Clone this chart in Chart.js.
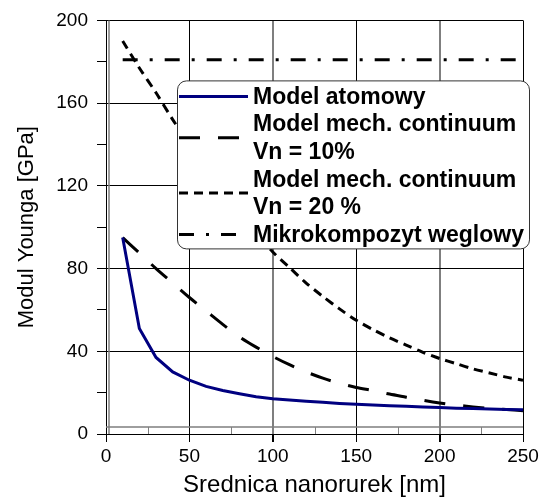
<!DOCTYPE html>
<html>
<head>
<meta charset="utf-8">
<script src="https://cdn.jsdelivr.net/npm/chart.js@4"></script>
<style>
  html, body { margin: 0; padding: 0; background: #fff; }
  #wrap { width: 539px; height: 500px; position: relative; }
</style>
</head>
<body>
<div id="wrap"><canvas id="chart"></canvas></div>
<script>
// Diameters [nm] and Young's modulus [GPa]
const diameters = [10, 20, 30, 40, 50, 60, 70, 80, 90, 100, 110, 120, 130,
                   140, 150, 160, 170, 180, 190, 200, 210, 220, 230, 240, 250];
const atomowy = [95, 51, 37, 30, 26, 23, 21, 19.5, 18, 17, 16.4, 15.8, 15.3,
                 14.8, 14.4, 14, 13.7, 13.4, 13.1, 12.8, 12.5, 12.3, 12.1, 11.9, 11.7];
const continuum10 = [95, 87.5, 80, 73, 66, 59.5, 53, 47, 42, 37.5, 33.5, 30, 27,
                     24.5, 22.5, 21, 19.3, 17.8, 16.3, 15, 14, 13.1, 12.4, 11.8, 11.3];
const continuum20 = [190, 177, 165, 152, 140, 129, 118, 107.5, 97.5, 88, 80.5, 73, 66.5,
                     60.5, 55, 50.5, 46.5, 43, 39.5, 36.5, 34, 31.5, 29.5, 27.5, 26];
const mikroX = [10, 250];
const mikroY = [181, 181];

const seriesLabels = [
  ['Model atomowy'],
  ['Model mech. continuum', 'Vn = 10%'],
  ['Model mech. continuum', 'Vn = 20 %'],
  ['Mikrokompozyt weglowy']
];
const xTicks = [0, 50, 100, 150, 200, 250];
const yTicks = [0, 40, 80, 120, 160, 200];

const FONT = "'Liberation Sans', Arial, sans-serif";

function pts(xs, ys) {
  return xs.map((x, i) => ({ x: x, y: ys[i] }));
}

// grey "second frame" seen just inside the axes, plus the small inner ticks
const innerFrame = {
  id: 'innerFrame',
  beforeDatasetsDraw(chart) {
    const { ctx, chartArea: a, scales } = chart;
    ctx.save();
    ctx.strokeStyle = '#7f7f7f';
    ctx.lineWidth = 1.5;
    ctx.beginPath();
    ctx.moveTo(a.left + 3, a.top);
    ctx.lineTo(a.left + 3, a.bottom);
    ctx.moveTo(a.left, a.bottom - 7);
    ctx.lineTo(a.right, a.bottom - 7);
    ctx.stroke();
    ctx.lineWidth = 1;
    ctx.beginPath();
    for (let v = 25; v < 250; v += 50) {
      const px = Math.round(scales.x.getPixelForValue(v)) + 0.5;
      ctx.moveTo(px, a.bottom - 7);
      ctx.lineTo(px, a.bottom);
    }
    ctx.stroke();
    ctx.restore();
  }
};

// Excel-like legend box with multi-line labels
const boxLegend = {
  id: 'boxLegend',
  afterDatasetsDraw(chart) {
    const { ctx, chartArea: a } = chart;
    const left = a.left + 71, top = a.top + 60;
    const right = a.right + 6, bottom = a.top + 228;
    ctx.save();
    ctx.beginPath();
    ctx.roundRect(left + 0.5, top + 0.5, right - left, bottom - top, 9);
    ctx.fillStyle = '#fff';
    ctx.fill();
    ctx.strokeStyle = '#333';
    ctx.lineWidth = 1;
    ctx.stroke();

    ctx.font = 'bold 23px ' + FONT;
    ctx.textBaseline = 'middle';
    ctx.fillStyle = '#000';
    const lh = 27.6;
    let y = top + 16;
    chart.data.datasets.forEach((ds, i) => {
      const lines = seriesLabels[i];
      const mid = y + (lines.length - 1) * lh / 2;
      ctx.save();
      ctx.strokeStyle = ds.borderColor;
      ctx.lineWidth = ds.borderWidth;
      ctx.setLineDash(ds.borderDash || []);
      ctx.beginPath();
      ctx.moveTo(left + 2, mid);
      ctx.lineTo(left + 71, mid);
      ctx.stroke();
      ctx.restore();
      lines.forEach((t, k) => ctx.fillText(t, left + 76, y + k * lh + 1));
      y += lines.length * lh;
    });
    ctx.restore();
  }
};

new Chart(document.getElementById('chart'), {
  type: 'line',
  data: {
    datasets: [
      {
        label: seriesLabels[0].join(' '),
        data: pts(diameters, atomowy),
        borderColor: '#000080',
        borderWidth: 3,
        tension: 0
      },
      {
        label: seriesLabels[1].join(' '),
        data: pts(diameters, continuum10),
        borderColor: '#000',
        borderWidth: 3,
        borderDash: [21, 18],
        tension: 0.3
      },
      {
        label: seriesLabels[2].join(' '),
        data: pts(diameters, continuum20),
        borderColor: '#000',
        borderWidth: 3,
        borderDash: [9, 6],
        tension: 0.3
      },
      {
        label: seriesLabels[3].join(' '),
        data: pts(mikroX, mikroY),
        borderColor: '#000',
        borderWidth: 3,
        borderDash: [15, 12, 3, 12]
      }
    ]
  },
  options: {
    responsive: true,
    maintainAspectRatio: false,
    animation: false,
    events: [],
    layout: { padding: { left: 0, right: 16, top: 19, bottom: 0 } },
    elements: { point: { radius: 0 } },
    plugins: {
      legend: { display: false },
      tooltip: { enabled: false }
    },
    scales: {
      x: {
        type: 'linear',
        min: 0,
        max: 250,
        afterFit(s) { s.height = 66; s.paddingRight = 0; s.paddingLeft = 0; },
        afterBuildTicks(s) {
          s.ticks = [];
          for (let v = 0; v <= 250; v += 25) s.ticks.push({ value: v });
        },
        border: { color: '#000', width: 1 },
        grid: {
          color: c => (c.tick.value % 50 !== 0 ? 'rgba(0,0,0,0)'
            : (c.tick.value === 100 || c.tick.value === 200 ? '#7f7f7f' : '#000')),
          lineWidth: c => (c.tick.value === 100 || c.tick.value === 200 ? 2 : 1),
          tickColor: c => (c.tick.value % 50 !== 0 ? 'rgba(0,0,0,0)' : '#000'),
          tickLength: 8
        },
        ticks: {
          color: '#000',
          font: { family: FONT, size: 19 },
          padding: 3,
          maxRotation: 0,
          autoSkip: false,
          callback: v => (xTicks.includes(v) ? v : '')
        },
        title: {
          display: true,
          text: 'Srednica nanorurek [nm]',
          color: '#000',
          font: { family: FONT, size: 24 },
          padding: { top: 3, bottom: 0 }
        }
      },
      y: {
        min: 0,
        max: 200,
        afterFit(s) { s.width = 106; },
        afterBuildTicks(s) {
          s.ticks = [];
          for (let v = 0; v <= 200; v += 20) s.ticks.push({ value: v });
        },
        border: { color: '#000', width: 1 },
        grid: {
          color: c => (c.tick.value % 40 !== 0 ? 'rgba(0,0,0,0)' : '#000'),
          tickColor: '#000',
          tickLength: 9
        },
        ticks: {
          color: '#000',
          font: { family: FONT, size: 19 },
          padding: 9,
          autoSkip: false,
          callback: v => (yTicks.includes(v) ? v : '')
        },
        title: {
          display: true,
          text: 'Modul Younga [GPa]',
          color: '#000',
          font: { family: FONT, size: 22 },
          padding: { top: 14, bottom: 0 }
        }
      }
    }
  },
  plugins: [innerFrame, boxLegend]
});
</script>
</body>
</html>
